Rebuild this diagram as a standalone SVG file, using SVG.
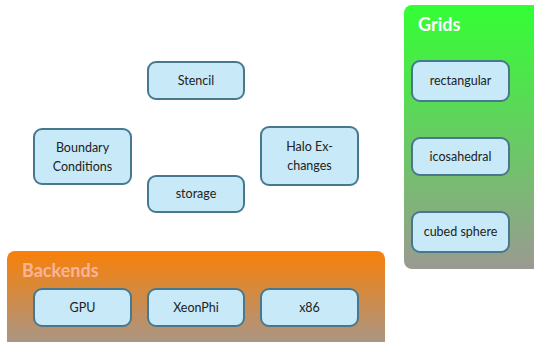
<svg xmlns="http://www.w3.org/2000/svg" width="534" height="342" viewBox="0 0 534 342">
<defs>
<linearGradient id="gOrange" x1="0" y1="0" x2="0" y2="1">
<stop offset="0" stop-color="#F88008"/>
<stop offset="1" stop-color="#A29890"/>
</linearGradient>
<linearGradient id="gGreen" x1="0" y1="0" x2="0" y2="1">
<stop offset="0" stop-color="#33FF33"/>
<stop offset="1" stop-color="#9A9A92"/>
</linearGradient>
<style>
.node rect{fill:#C8E9F8;stroke:#47788E;stroke-width:2}
.node text{font-family:Lato,"DejaVu Sans",sans-serif;font-size:12.5px;fill:#222;text-anchor:middle}
.title{font-family:Lato,"DejaVu Sans",sans-serif;font-size:18px;font-weight:bold}
</style>
</defs>
<g id="backends">
<rect x="7" y="251" width="378" height="100" rx="8" fill="url(#gOrange)"/>
<text class="title" x="22" y="277" fill="#F9B49C">Backends</text>
</g>
<g id="grids">
<rect x="404" y="5" width="140" height="264" rx="8" fill="url(#gGreen)"/>
<text class="title" x="418" y="31" fill="#FFFFFF">Grids</text>
</g>
<g id="connectors"></g>
<g id="stencil" class="node"><rect x="148" y="62" width="96" height="37" rx="8"/><text x="196" y="85">Stencil</text></g>
<g id="boundary" class="node"><rect x="34" y="129" width="97" height="55" rx="8"/><text x="82.5" y="152">Boundary</text><text x="82.5" y="171">Conditions</text></g>
<g id="halo" class="node"><rect x="261" y="127" width="97" height="58" rx="8"/><text x="309.5" y="151">Halo Ex-</text><text x="309.5" y="170">changes</text></g>
<g id="storage" class="node"><rect x="148" y="176" width="96" height="36" rx="8"/><text x="196" y="198">storage</text></g>
<g id="gpu" class="node"><rect x="34" y="289" width="97" height="37" rx="8"/><text x="82.5" y="312">GPU</text></g>
<g id="xeonphi" class="node"><rect x="148" y="289" width="96" height="37" rx="8"/><text x="196" y="312">XeonPhi</text></g>
<g id="x86" class="node"><rect x="261" y="289" width="97" height="37" rx="8"/><text x="309.5" y="312">x86</text></g>
<g id="rectangular" class="node"><rect x="412" y="61" width="97" height="40" rx="8"/><text x="460.5" y="85">rectangular</text></g>
<g id="icosahedral" class="node"><rect x="412" y="138" width="97" height="37" rx="8"/><text x="460.5" y="161">icosahedral</text></g>
<g id="cubedsphere" class="node"><rect x="412" y="212" width="97" height="40" rx="8"/><text x="460.5" y="236">cubed sphere</text></g>
</svg>
